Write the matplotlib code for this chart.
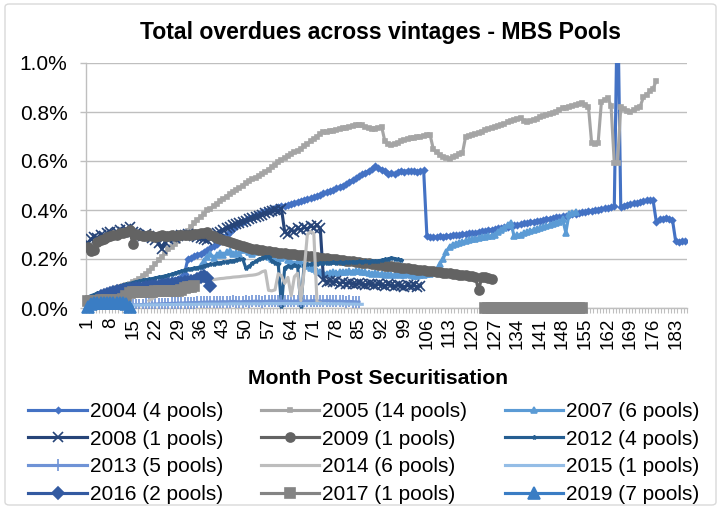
import numpy as np
import matplotlib
matplotlib.use('Agg')
import matplotlib.pyplot as plt
from matplotlib.patches import FancyBboxPatch
from matplotlib.lines import Line2D

plt.rcParams['font.family'] = ['Liberation Sans', 'DejaVu Sans']

# ---------------- data (values in %) ----------------
N_MONTHS = 186
tick_months = list(range(1, 184, 7))

v2004 = [0.020,0.025,0.030,0.034,0.038,0.042,0.046,0.050,0.053,0.056,
         0.060,0.063,0.066,0.070,0.073,0.076,0.080,0.083,0.086,0.090,
         0.093,0.096,0.100,0.103,0.106,0.110,0.113,0.116,0.120,0.125,
         0.140,0.200,0.205,0.212,0.218,0.222,0.230,0.238,0.245,0.252,
         0.262,0.275,0.290,0.300,0.312,0.322,0.335,0.345,0.352,0.360,
         0.366,0.372,0.378,0.385,0.390,0.396,0.402,0.405,0.410,0.412,
         0.415,0.418,0.422,0.425,0.430,0.433,0.437,0.440,0.444,0.448,
         0.452,0.456,0.462,0.468,0.473,0.478,0.482,0.488,0.494,0.500,
         0.507,0.514,0.522,0.530,0.538,0.545,0.552,0.560,0.568,0.578,
         0.572,0.565,0.558,0.545,0.552,0.548,0.556,0.560,0.557,0.560,
         0.558,0.561,0.556,0.559,0.562,0.295,0.290,0.288,0.290,0.292,
         0.291,0.293,0.295,0.296,0.298,0.300,0.301,0.303,0.305,0.307,
         0.308,0.311,0.313,0.315,0.317,0.320,0.322,0.325,0.327,0.330,
         0.332,0.335,0.337,0.340,0.342,0.345,0.347,0.350,0.352,0.355,
         0.357,0.360,0.362,0.365,0.367,0.370,0.372,0.375,0.377,0.380,
         0.382,0.385,0.387,0.390,0.392,0.395,0.397,0.400,0.402,0.405,
         0.407,0.410,0.412,0.415,1.300,0.412,0.418,0.421,0.424,0.427,
         0.430,0.433,0.436,0.440,0.442,0.440,0.352,0.362,0.365,0.366,
         0.364,0.360,0.272,0.270,0.273,0.275]
v2005 = [0.020,0.028,0.034,0.040,0.048,0.055,0.062,0.068,0.075,0.080,
         0.085,0.090,0.095,0.100,0.105,0.112,0.120,0.130,0.140,0.150,
         0.165,0.180,0.195,0.210,0.225,0.240,0.250,0.262,0.275,0.290,
         0.302,0.315,0.330,0.345,0.360,0.372,0.385,0.398,0.405,0.415,
         0.425,0.435,0.445,0.455,0.465,0.472,0.480,0.490,0.500,0.510,
         0.518,0.525,0.532,0.540,0.548,0.556,0.565,0.575,0.585,0.595,
         0.605,0.612,0.620,0.628,0.635,0.642,0.650,0.660,0.670,0.680,
         0.690,0.700,0.712,0.720,0.718,0.722,0.724,0.728,0.730,0.733,
         0.736,0.740,0.742,0.746,0.748,0.745,0.738,0.735,0.732,0.730,
         0.735,0.740,0.680,0.668,0.665,0.668,0.672,0.680,0.685,0.690,
         0.692,0.695,0.697,0.700,0.702,0.705,0.706,0.648,0.635,0.625,
         0.618,0.612,0.610,0.615,0.622,0.628,0.632,0.700,0.702,0.706,
         0.710,0.714,0.720,0.725,0.730,0.735,0.740,0.744,0.748,0.752,
         0.758,0.762,0.766,0.770,0.775,0.762,0.758,0.762,0.768,0.772,
         0.778,0.783,0.788,0.792,0.797,0.802,0.808,0.815,0.818,0.822,
         0.825,0.828,0.832,0.836,0.830,0.822,0.672,0.670,0.675,0.840,
         0.850,0.858,0.825,0.590,0.592,0.820,0.812,0.805,0.800,0.808,
         0.815,0.822,0.860,0.870,0.885,0.895,0.928]
v2007 = [0.170,0.190,0.210,0.220,0.205,0.215,0.225,0.218,0.228,0.232,
         0.222,0.226,0.220,0.235,0.240,0.228,0.222,0.230,0.236,0.232,
         0.225,0.210,0.200,0.195,0.190,0.205,0.212,0.195,0.186,0.180,
         0.190,0.185,0.178,0.172,0.165,0.158,0.150,0.145,0.142,0.140,
         0.142,0.145,0.143,0.146,0.148,0.145,0.150,0.148,0.152,0.150,
         0.148,0.145,0.142,0.140,0.143,0.138,0.140,0.136,0.138,0.135,
         0.134,0.138,0.136,0.134,0.138,0.135,0.132,0.130,0.134,0.136,
         0.138,0.140,0.145,0.155,0.180,0.200,0.230,0.250,0.258,0.262,
         0.266,0.270,0.273,0.276,0.280,0.282,0.285,0.288,0.290,0.292,
         0.295,0.300,0.312,0.318,0.325,0.340,0.348,0.292,0.296,0.300,
         0.305,0.310,0.314,0.318,0.322,0.326,0.330,0.334,0.338,0.342,
         0.348,0.352,0.362,0.308,0.385,0.388,0.392]
v2008 = [0.265,0.280,0.290,0.285,0.300,0.295,0.305,0.310,0.300,0.312,
         0.318,0.310,0.322,0.330,0.312,0.305,0.300,0.295,0.302,0.292,
         0.285,0.278,0.265,0.240,0.268,0.282,0.290,0.285,0.292,0.300,
         0.296,0.302,0.298,0.295,0.290,0.285,0.280,0.276,0.285,0.292,
         0.305,0.312,0.320,0.326,0.332,0.338,0.342,0.348,0.352,0.356,
         0.362,0.366,0.372,0.376,0.380,0.386,0.390,0.394,0.400,0.396,
         0.405,0.310,0.302,0.318,0.312,0.325,0.318,0.330,0.322,0.335,
         0.328,0.338,0.325,0.115,0.108,0.112,0.105,0.110,0.100,0.106,
         0.098,0.104,0.100,0.096,0.102,0.098,0.094,0.100,0.096,0.092,
         0.098,0.094,0.090,0.096,0.092,0.088,0.094,0.090,0.086,0.092,
         0.088,0.092,0.086,0.090]
v2009 = [0.248,0.232,0.238,0.268,0.278,0.282,0.288,0.292,0.296,0.300,
         0.305,0.308,0.312,0.318,0.262,0.302,0.296,0.292,0.295,0.298,
         0.294,0.290,0.293,0.296,0.292,0.295,0.298,0.294,0.296,0.298,
         0.300,0.297,0.299,0.302,0.304,0.305,0.308,0.310,0.300,0.292,
         0.286,0.282,0.278,0.272,0.268,0.264,0.260,0.256,0.252,0.248,
         0.245,0.242,0.240,0.238,0.236,0.234,0.232,0.230,0.228,0.226,
         0.225,0.223,0.222,0.220,0.219,0.218,0.216,0.215,0.214,0.212,
         0.210,0.208,0.206,0.205,0.204,0.202,0.200,0.198,0.197,0.195,
         0.193,0.191,0.190,0.188,0.186,0.185,0.183,0.182,0.180,0.178,
         0.176,0.175,0.173,0.172,0.170,0.168,0.166,0.165,0.163,0.162,
         0.160,0.158,0.157,0.155,0.154,0.152,0.150,0.149,0.147,0.146,
         0.144,0.142,0.141,0.139,0.138,0.136,0.134,0.133,0.131,0.130,
         0.128,0.072,0.127,0.125,0.122,0.120]
v2012 = [0.050,0.055,0.060,0.064,0.068,0.072,0.076,0.080,0.084,0.088,
         0.092,0.096,0.100,0.104,0.108,0.110,0.113,0.116,0.118,0.120,
         0.123,0.126,0.128,0.131,0.134,0.138,0.142,0.146,0.150,0.155,
         0.158,0.160,0.163,0.165,0.168,0.172,0.175,0.178,0.180,0.183,
         0.185,0.187,0.189,0.191,0.193,0.196,0.198,0.200,0.162,0.170,
         0.182,0.190,0.198,0.205,0.208,0.210,0.192,0.185,0.178,0.010,
         0.165,0.172,0.168,0.174,0.170,0.008,0.176,0.180,0.178,0.182,
         0.180,0.184,0.182,0.185,0.183,0.186,0.184,0.187,0.185,0.188,
         0.186,0.189,0.187,0.190,0.188,0.191,0.189,0.192,0.190,0.193,
         0.195,0.198,0.200,0.205,0.202,0.198,0.195]
v2013 = [0.004,0.005,0.006,0.006,0.007,0.008,0.008,0.009,0.010,0.010,
         0.011,0.011,0.012,0.012,0.013,0.013,0.014,0.014,0.015,0.015,
         0.016,0.016,0.017,0.017,0.018,0.018,0.019,0.019,0.020,0.020,
         0.021,0.021,0.022,0.022,0.023,0.023,0.024,0.024,0.025,0.025,
         0.024,0.025,0.026,0.025,0.026,0.027,0.026,0.025,0.026,0.027,
         0.026,0.027,0.028,0.027,0.026,0.027,0.028,0.029,0.028,0.027,
         0.028,0.029,0.028,0.027,0.028,0.029,0.030,0.029,0.028,0.029,
         0.030,0.029,0.028,0.029,0.030,0.029,0.028,0.027,0.028,0.027,
         0.026,0.027,0.026,0.025,0.024]
v2014 = [0.030,0.038,0.046,0.054,0.062,0.070,0.077,0.083,0.088,0.092,
         0.095,0.098,0.100,0.102,0.104,0.106,0.108,0.110,0.112,0.114,
         0.116,0.118,0.120,0.121,0.123,0.124,0.126,0.127,0.128,0.130,
         0.131,0.133,0.134,0.136,0.140,0.148,0.152,0.072,0.070,0.074,
         0.140,0.132,0.100,0.125,0.050,0.128,0.142,0.030,0.150,0.300,
         0.312,0.305,0.022,0.020]
v2015 = [0.005,0.006,0.007,0.007,0.008,0.008,0.009,0.009,0.010,0.010,
         0.010,0.011,0.011,0.011,0.012,0.012,0.012,0.012,0.013,0.013,
         0.013,0.013,0.013,0.014,0.014,0.014,0.014,0.014,0.015,0.015,
         0.015,0.015,0.015,0.015,0.015,0.016,0.016,0.016,0.016,0.016,
         0.016,0.016,0.016,0.016,0.017,0.017,0.017,0.017,0.017,0.017,
         0.017,0.017,0.017,0.017,0.017,0.018,0.018,0.018,0.018,0.018,
         0.018,0.018,0.018,0.018,0.018,0.018,0.018,0.018,0.018,0.018,
         0.018,0.018,0.018,0.018,0.017,0.017,0.017,0.017,0.017,0.017,
         0.016,0.016,0.016,0.016,0.015,0.015]
v2016 = [0.050,0.055,0.058,0.062,0.065,0.068,0.070,0.072,0.074,0.076,
         0.078,0.080,0.082,0.083,0.085,0.086,0.088,0.090,0.091,0.093,
         0.094,0.096,0.098,0.100,0.102,0.104,0.106,0.108,0.110,0.112,
         0.118,0.125,0.130,0.122,0.090]
v2017a = [0.028,0.029,0.030,0.030,0.031,0.031,0.032,0.032,0.033,0.033,
          0.034,0.035,0.050,0.062,0.064,0.065,0.065,0.066,0.066,0.067,
          0.067,0.068,0.068,0.069,0.069,0.070,0.070,0.071,0.071,0.072,
          0.082,0.085,0.087,0.088]
v2017b = [0.000,0.000,0.000,0.000,0.000,0.000,0.000,0.000,0.000,0.000,
          0.000,0.000,0.000,0.000,0.000,0.000,0.000,0.000,0.000,0.000,
          0.000,0.000,0.000,0.000,0.000,0.000,0.000,0.000,0.000,0.000,
          0.000]
v2019 = [0.004,0.018,0.020,0.019,0.021,0.020,0.019,0.020,0.021,0.020,
         0.019,0.020,0.018,0.004]

# (label, [(start_month, values), ...], color, marker, markersize)
series = [
    ("2004 (4 pools)",  [(1, v2004)],   "#4472C4", "D", 3.0),
    ("2005 (14 pools)", [(1, v2005)],   "#A5A5A5", "s", 3.0),
    ("2007 (6 pools)",  [(36, v2007)],  "#5B9BD5", "^", 4.0),
    ("2008 (1 pools)",  [(1, v2008)],   "#264478", "x", 7.0),
    ("2009 (1 pools)",  [(1, v2009)],   "#636363", "o", 6.5),
    ("2012 (4 pools)",  [(2, v2012)],   "#255E91", "*", 3.0),
    ("2013 (5 pools)",  [(1, v2013)],   "#6F93D6", "|", 8.0),
    ("2014 (6 pools)",  [(20, v2014)],  "#BDBDBD", None, 0),
    ("2015 (1 pools)",  [(1, v2015)],   "#94BDE6", None, 0),
    ("2016 (2 pools)",  [(5, v2016)],   "#335AA1", "D", 6.0),
    ("2017 (1 pools)",  [(1, v2017a), (124, v2017b)], "#848484", "s", 7.0),
    ("2019 (7 pools)",  [(1, v2019)],   "#3A7DC4", "^", 8.0),
]

# ---------------- figure ----------------
W, H = 724, 509
fig = plt.figure(figsize=(W / 100, H / 100), dpi=100)
fig.patches.append(FancyBboxPatch((5 / W, 4 / H), 711 / W, 501 / H,
                                  boxstyle="round,pad=0,rounding_size=0.006",
                                  transform=fig.transFigure, fill=False,
                                  ec="#D9D9D9", lw=1.0))

L, R, T, B = 86, 687, 63, 308
ax = fig.add_axes([L / W, 1 - B / H, (R - L) / W, (B - T) / H])

months = np.arange(1, N_MONTHS + 1)
handles = []
for i, (label, segs, color, marker, ms) in enumerate(series):
    arr = np.full(N_MONTHS, np.nan)
    for start, vals in segs:
        arr[start - 1:start - 1 + len(vals)] = vals
    clip = label.startswith("2017") or label.startswith("2019")
    ax.plot(months, arr, color=color, lw=2.25, marker=marker, ms=ms,
            mec=color, mfc=color, mew=1.2, zorder=3 + i,
            clip_on=not clip)
    handles.append(Line2D([], [], color=color, lw=2.25, marker=marker,
                          ms=ms, mec=color, mfc=color, mew=1.2, label=label))

ax.set_xlim(0.5, N_MONTHS + 0.5)
ax.set_ylim(0, 1.0)
ax.set_yticks([0, 0.2, 0.4, 0.6, 0.8, 1.0])
ax.set_yticklabels([f"{v:.1f}%" for v in [0, 0.2, 0.4, 0.6, 0.8, 1.0]])
ax.set_xticks(tick_months)
ax.set_xticklabels([str(m) for m in tick_months], rotation=90)
ax.set_xticks(np.arange(0.5, N_MONTHS + 1, 1.0), minor=True)
ax.tick_params(axis='x', which='major', length=0, pad=7, labelsize=13.5)
ax.tick_params(axis='x', which='minor', length=3.6, width=0.8, color="#BFBFBF")
ax.tick_params(axis='y', length=4.3, width=1.0, color="#BFBFBF", labelsize=15, pad=9)

ax.yaxis.grid(True, color="#BFBFBF", lw=1.0, zorder=0)
ax.set_axisbelow(True)
for s in ["top", "right"]:
    ax.spines[s].set_visible(False)
for s in ["left", "bottom"]:
    ax.spines[s].set_color("#BFBFBF")
    ax.spines[s].set_linewidth(1.0)

fig.text(380 / W, 1 - 33 / H, "Total overdues across vintages - MBS Pools",
         ha="center", va="center", fontsize=16.6, fontweight="bold")
fig.text(378 / W, 1 - 378 / H, "Month Post Securitisation",
         ha="center", va="center", fontsize=15.2, fontweight="bold")

order = [0, 3, 6, 9, 1, 4, 7, 10, 2, 5, 8, 11]
fig.legend([handles[k] for k in order], [series[k][0] for k in order],
           ncol=3, loc="center", bbox_to_anchor=(364 / W, 1 - 453 / H),
           frameon=False, fontsize=15, handlelength=2.8,
           handletextpad=0.15, columnspacing=1.8, labelspacing=0.42)

fig.savefig("out.png", dpi=100)
